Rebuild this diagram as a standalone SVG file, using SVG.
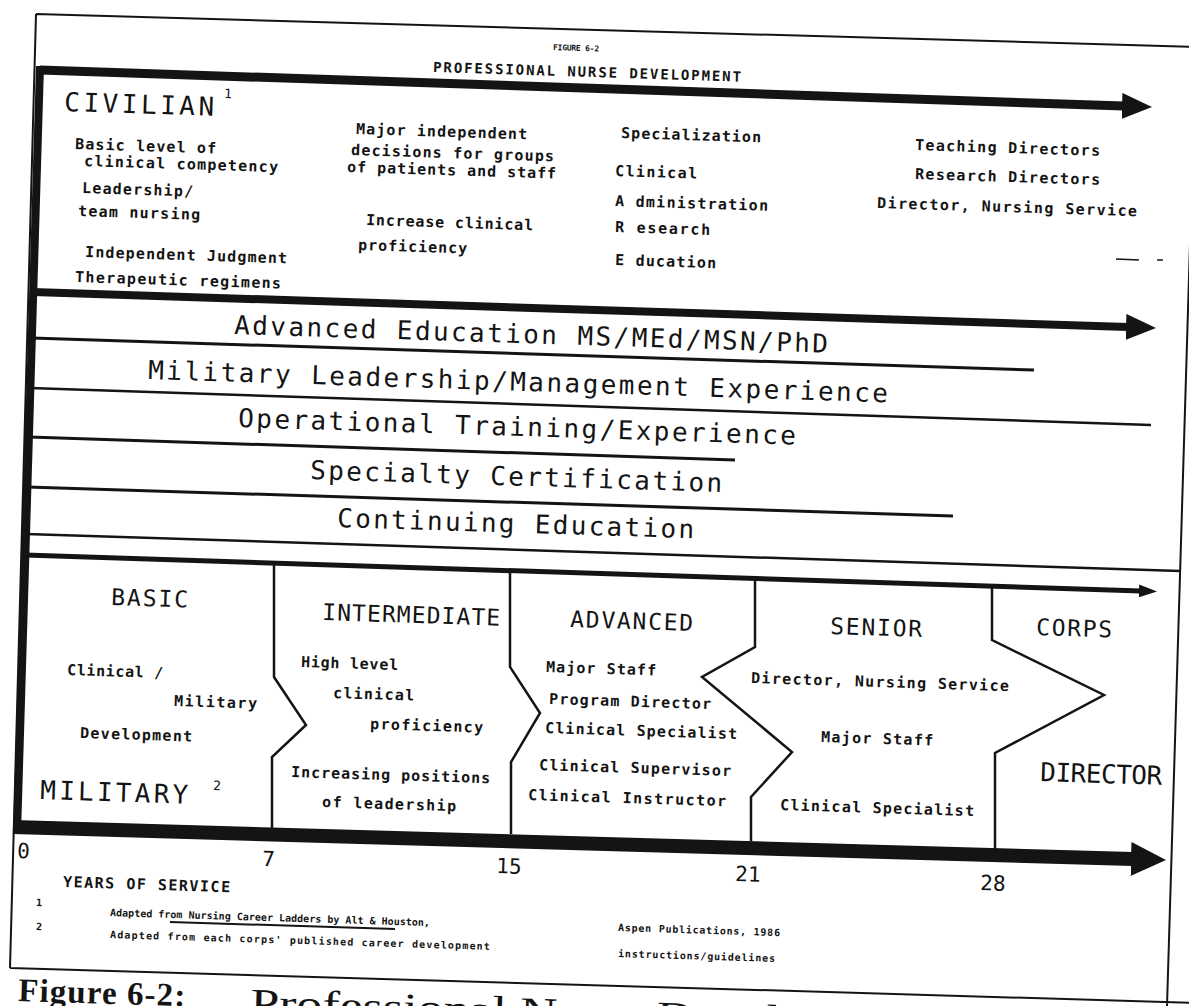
<svg xmlns="http://www.w3.org/2000/svg" width="1189" height="1006" viewBox="0 0 1189 1006">
<defs>
<style>
text{fill:#141414}
.lg{font-family:"DejaVu Sans Mono","Liberation Mono",monospace;font-size:26px}
.st{font-family:"DejaVu Sans Mono","Liberation Mono",monospace;font-size:23px}
.sm{font-family:"DejaVu Sans Mono","Liberation Mono",monospace;font-size:15px;font-weight:bold}
.fn{font-family:"DejaVu Sans Mono","Liberation Mono",monospace;font-size:10px;font-weight:bold}
.ttl{font-family:"DejaVu Sans Mono","Liberation Mono",monospace;font-size:14px;font-weight:bold}
.tiny{font-family:"DejaVu Sans Mono","Liberation Mono",monospace;font-size:8px;font-weight:bold}
.num{font-family:"DejaVu Sans Mono","Liberation Mono",monospace;font-size:21px}
.sup{font-family:"DejaVu Sans Mono","Liberation Mono",monospace;font-size:13px}
.capb{font-family:"Liberation Serif","Times New Roman",serif;font-size:33px;font-weight:bold}
.capr{font-family:"Liberation Serif","Times New Roman",serif;font-size:40px}
.ln{stroke:#141414;fill:none;stroke-linecap:butt;stroke-linejoin:miter}
</style>
<marker id="ahL" markerUnits="userSpaceOnUse" markerWidth="30" markerHeight="26" viewBox="0 0 30 26" refX="2" refY="13" orient="auto"><path d="M0,0 L30,13 L0,26 z" fill="#141414"/></marker>
<marker id="ahS" markerUnits="userSpaceOnUse" markerWidth="18" markerHeight="13" viewBox="0 0 18 13" refX="2" refY="6.5" orient="auto"><path d="M0,0 L18,6.5 L0,13 z" fill="#141414"/></marker>
<marker id="ahX" markerUnits="userSpaceOnUse" markerWidth="35" markerHeight="34" viewBox="0 0 35 34" refX="2" refY="17" orient="auto"><path d="M0,0 L35,17 L0,34 z" fill="#141414"/></marker>
</defs>
<rect x="0" y="0" width="1189" height="1006" fill="#ffffff"/>

<g id="connectors">
  <g id="frame" class="ln" stroke-width="2">
    <path d="M36,14 L1200,47 M36,14 L10,968 M1196,45 L1167,1006 M10,968 L1200,1003"/>
  </g>
  <g id="timeline-arrows" class="ln">
    <line x1="40" y1="70" x2="1124" y2="106" stroke-width="9" marker-end="url(#ahL)"/>
    <line x1="40" y1="66" x2="17" y2="834" stroke-width="8"/>
    <line x1="33" y1="292" x2="1128" y2="327" stroke-width="8" marker-end="url(#ahL)"/>
    <line x1="25" y1="555" x2="1141" y2="591" stroke-width="5" marker-end="url(#ahS)"/>
    <line x1="13" y1="827" x2="1133" y2="859" stroke-width="14" marker-end="url(#ahX)"/>
  </g>
  <g id="bar-lines" class="ln">
    <line x1="32" y1="338" x2="1034" y2="370" stroke-width="3"/>
    <line x1="30" y1="388" x2="1151" y2="425" stroke-width="2.5"/>
    <line x1="29" y1="437" x2="735" y2="460" stroke-width="3"/>
    <line x1="27" y1="487" x2="953" y2="516" stroke-width="3"/>
    <line x1="26" y1="534" x2="1180" y2="571" stroke-width="2.5"/>
  </g>
  <g id="stage-dividers" class="ln" stroke-width="2.5">
    <polyline points="274,563 274,677 306,725 272,757 272,828"/>
    <polyline points="510,571 510,667 540,713 511,762 511,834"/>
    <polyline points="755,579 755,647 702,677 792,752 751,797 751,841"/>
    <polyline points="992,587 992,640 1104,695 995,753 995,849"/>
  </g>
  <g id="marks" class="ln" stroke-width="1.5">
    <line x1="1116" y1="259" x2="1139" y2="260"/>
    <line x1="1157" y1="260" x2="1163" y2="260"/>
  </g>
</g>

<g id="title">
  <text class="tiny" x="553" y="50" textLength="46" transform="rotate(1.8 553 50)">FIGURE 6-2</text>
  <text class="ttl" x="433" y="72" textLength="308" transform="rotate(1.8 433 72)">PROFESSIONAL NURSE DEVELOPMENT</text>
</g>

<g id="civilian">
  <text class="lg" x="64" y="111" textLength="150" transform="rotate(1.8 64 111)">CIVILIAN</text>
  <text class="sup" x="224" y="98" transform="rotate(1.8 224 98)">1</text>
  <g id="civ-basic">
    <text class="sm" x="75" y="149" textLength="141" transform="rotate(1.8 75 149)">Basic level of</text>
    <text class="sm" x="84" y="166" textLength="194" transform="rotate(1.8 84 166)">clinical competency</text>
    <text class="sm" x="82" y="193" textLength="111" transform="rotate(1.8 82 193)">Leadership/</text>
    <text class="sm" x="78" y="216" textLength="122" transform="rotate(1.8 78 216)">team nursing</text>
    <text class="sm" x="85" y="257" textLength="202" transform="rotate(1.8 85 257)">Independent Judgment</text>
    <text class="sm" x="75" y="282" textLength="206" transform="rotate(1.8 75 282)">Therapeutic regimens</text>
  </g>
  <g id="civ-major">
    <text class="sm" x="356" y="134" textLength="171" transform="rotate(1.8 356 134)">Major independent</text>
    <text class="sm" x="351" y="155" textLength="203" transform="rotate(1.8 351 155)">decisions for groups</text>
    <text class="sm" x="347" y="172" textLength="209" transform="rotate(1.8 347 172)">of patients and staff</text>
    <text class="sm" x="366" y="225" textLength="167" transform="rotate(1.8 366 225)">Increase clinical</text>
    <text class="sm" x="358" y="250" textLength="109" transform="rotate(1.8 358 250)">proficiency</text>
  </g>
  <g id="civ-special">
    <text class="sm" x="621" y="138" textLength="140" transform="rotate(1.8 621 138)">Specialization</text>
    <text class="sm" x="615" y="176" textLength="82" transform="rotate(1.8 615 176)">Clinical</text>
    <text class="sm" x="615" y="206" textLength="153" transform="rotate(1.8 615 206)">A dministration</text>
    <text class="sm" x="615" y="232" textLength="95" transform="rotate(1.8 615 232)">R esearch</text>
    <text class="sm" x="615" y="265" textLength="101" transform="rotate(1.8 615 265)">E ducation</text>
  </g>
  <g id="civ-directors">
    <text class="sm" x="915" y="150" textLength="185" transform="rotate(1.8 915 150)">Teaching Directors</text>
    <text class="sm" x="915" y="179" textLength="185" transform="rotate(1.8 915 179)">Research Directors</text>
    <text class="sm" x="877" y="208" textLength="260" transform="rotate(1.8 877 208)">Director, Nursing Service</text>
  </g>
</g>

<g id="bars">
  <text class="lg" x="234" y="334" textLength="594" transform="rotate(1.8 234 334)">Advanced Education MS/MEd/MSN/PhD</text>
  <text class="lg" x="148" y="379" textLength="740" transform="rotate(1.8 148 379)">Military Leadership/Management Experience</text>
  <text class="lg" x="238" y="427" textLength="558" transform="rotate(1.8 238 427)">Operational Training/Experience</text>
  <text class="lg" x="310" y="479" textLength="412" transform="rotate(1.8 310 479)">Specialty Certification</text>
  <text class="lg" x="337" y="527" textLength="357" transform="rotate(1.8 337 527)">Continuing Education</text>
</g>

<g id="military">
  <g id="basic">
    <text class="st" x="111" y="605" textLength="77" transform="rotate(1.8 111 605)">BASIC</text>
    <text class="sm" x="67" y="675" textLength="96" transform="rotate(1.8 67 675)">Clinical /</text>
    <text class="sm" x="174" y="706" textLength="83" transform="rotate(1.8 174 706)">Military</text>
    <text class="sm" x="80" y="738" textLength="112" transform="rotate(1.8 80 738)">Development</text>
    <text class="lg" x="40" y="799" textLength="148" transform="rotate(1.8 40 799)">MILITARY</text>
    <text class="sup" x="213" y="790" transform="rotate(1.8 213 790)">2</text>
  </g>
  <g id="intermediate">
    <text class="st" x="322" y="620" textLength="178" transform="rotate(1.8 322 620)">INTERMEDIATE</text>
    <text class="sm" x="301" y="667" textLength="97" transform="rotate(1.8 301 667)">High level</text>
    <text class="sm" x="333" y="698" textLength="81" transform="rotate(1.8 333 698)">clinical</text>
    <text class="sm" x="370" y="729" textLength="113" transform="rotate(1.8 370 729)">proficiency</text>
    <text class="sm" x="291" y="777" textLength="199" transform="rotate(1.8 291 777)">Increasing positions</text>
    <text class="sm" x="322" y="807" textLength="134" transform="rotate(1.8 322 807)">of leadership</text>
  </g>
  <g id="advanced">
    <text class="st" x="570" y="627" textLength="123" transform="rotate(1.8 570 627)">ADVANCED</text>
    <text class="sm" x="546" y="672" textLength="110" transform="rotate(1.8 546 672)">Major Staff</text>
    <text class="sm" x="549" y="704" textLength="162" transform="rotate(1.8 549 704)">Program Director</text>
    <text class="sm" x="545" y="733" textLength="192" transform="rotate(1.8 545 733)">Clinical Specialist</text>
    <text class="sm" x="539" y="770" textLength="192" transform="rotate(1.8 539 770)">Clinical Supervisor</text>
    <text class="sm" x="528" y="800" textLength="198" transform="rotate(1.8 528 800)">Clinical Instructor</text>
  </g>
  <g id="senior">
    <text class="st" x="830" y="634" textLength="92" transform="rotate(1.8 830 634)">SENIOR</text>
    <text class="sm" x="751" y="683" textLength="258" transform="rotate(1.8 751 683)">Director, Nursing Service</text>
    <text class="sm" x="821" y="742" textLength="112" transform="rotate(1.8 821 742)">Major Staff</text>
    <text class="sm" x="780" y="810" textLength="194" transform="rotate(1.8 780 810)">Clinical Specialist</text>
  </g>
  <g id="corps-director">
    <text class="st" x="1036" y="635" textLength="76" transform="rotate(1.8 1036 635)">CORPS</text>
    <text class="lg" x="1040" y="781" textLength="122" transform="rotate(1.8 1040 781)">DIRECTOR</text>
  </g>
</g>

<g id="axis">
  <text class="num" x="17" y="858" transform="rotate(1.8 17 858)">0</text>
  <text class="num" x="262" y="866" transform="rotate(1.8 262 866)">7</text>
  <text class="num" x="496" y="873" transform="rotate(1.8 496 873)">15</text>
  <text class="num" x="735" y="881" transform="rotate(1.8 735 881)">21</text>
  <text class="num" x="980" y="890" transform="rotate(1.8 980 890)">28</text>
  <text class="sm" x="63" y="887" textLength="167" transform="rotate(1.8 63 887)">YEARS OF SERVICE</text>
</g>

<g id="footnotes">
  <text class="fn" x="36" y="906" transform="rotate(1.8 36 906)">1</text>
  <text class="fn" x="36" y="930" transform="rotate(1.8 36 930)">2</text>
  <text class="fn" x="110" y="916" textLength="320" transform="rotate(1.8 110 916)">Adapted from Nursing Career Ladders by Alt &amp; Houston,</text>
  <line class="ln" x1="170" y1="922" x2="395" y2="929" stroke-width="2"/>
  <text class="fn" x="110" y="938" textLength="380" transform="rotate(1.8 110 938)">Adapted from each corps' published career development</text>
  <text class="fn" x="618" y="931" textLength="162" transform="rotate(1.8 618 931)">Aspen Publications, 1986</text>
  <text class="fn" x="618" y="957" textLength="157" transform="rotate(1.8 618 957)">instructions/guidelines</text>
</g>

<g id="caption">
  <text class="capb" x="18" y="1001" textLength="167" transform="rotate(1.8 18 1001)">Figure 6-2:</text>
  <text class="capr" x="250" y="1016" textLength="686" lengthAdjust="spacingAndGlyphs" transform="rotate(1.8 250 1016)">Professional Nurse Development</text>
</g>
</svg>
